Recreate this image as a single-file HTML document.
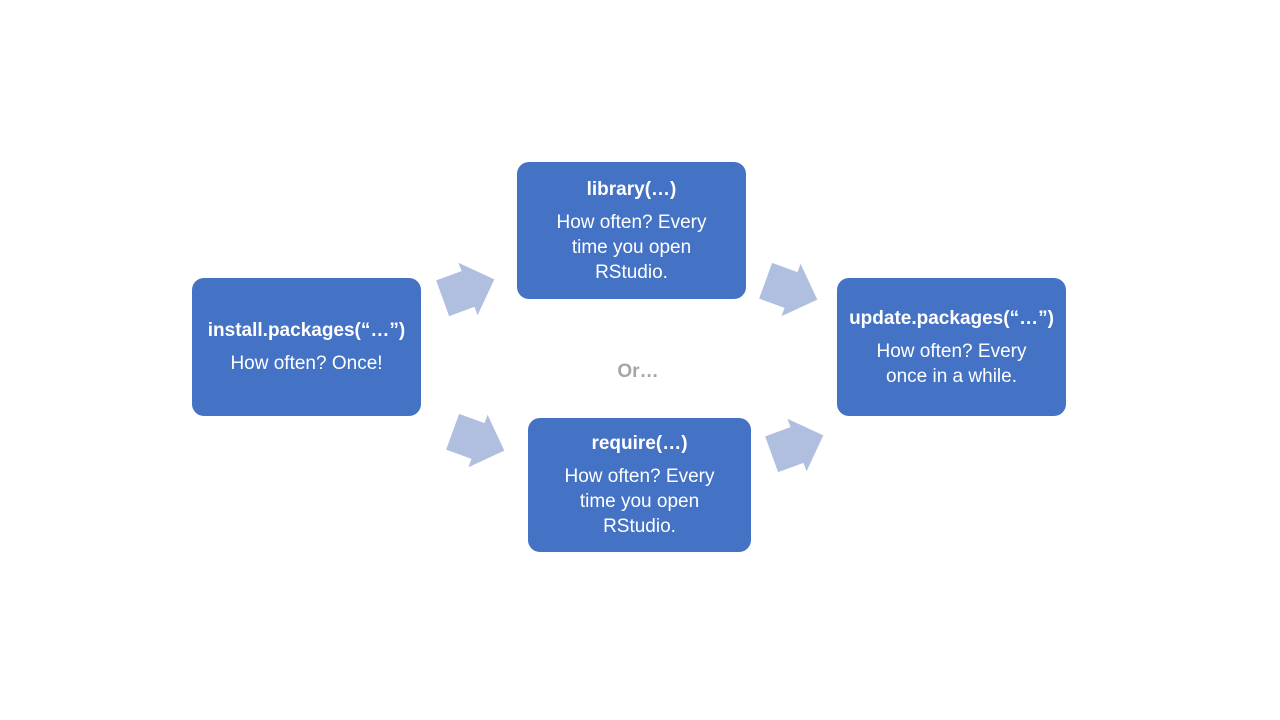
<!DOCTYPE html>
<html><head><style>
body{margin:0;width:1280px;height:720px;background:#fff;font-family:"Liberation Sans",Calibri,sans-serif;position:relative;overflow:hidden}
.b{position:absolute;background:#4472c4;border-radius:12px;color:#fff;display:flex;flex-direction:column;justify-content:center;align-items:center;text-align:center;font-size:19px;line-height:25px}
.b b{display:block;margin-bottom:8px}
</style></head><body>
<svg width="1280" height="720" style="position:absolute;left:0;top:0">
<defs><polygon id="ar" points="-27,-19 0,-19 0,-28 28,0 0,28 0,19 -27,19" fill="#b0bfe0"/></defs>
<use href="#ar" transform="translate(468,289) rotate(-20)"/>
<use href="#ar" transform="translate(478,441) rotate(20)"/>
<use href="#ar" transform="translate(791,290) rotate(20)"/>
<use href="#ar" transform="translate(797,445) rotate(-20)"/>
</svg>
<div class="b" style="left:192px;top:278px;width:229px;height:138px"><b>install.packages(“…”)</b>How often? Once!</div>
<div class="b" style="left:517px;top:162px;width:229px;height:137px"><b>library(…)</b>How often? Every<br>time you open<br>RStudio.</div>
<div class="b" style="left:528px;top:418px;width:223px;height:134px"><b>require(…)</b>How often? Every<br>time you open<br>RStudio.</div>
<div class="b" style="left:837px;top:278px;width:229px;height:138px"><b>update.packages(“…”)</b>How often? Every<br>once in a while.</div>
<div style="position:absolute;left:600px;top:361px;width:76px;text-align:center;color:#a6a6a6;font-weight:bold;font-size:19px">Or…</div>
</body></html>
